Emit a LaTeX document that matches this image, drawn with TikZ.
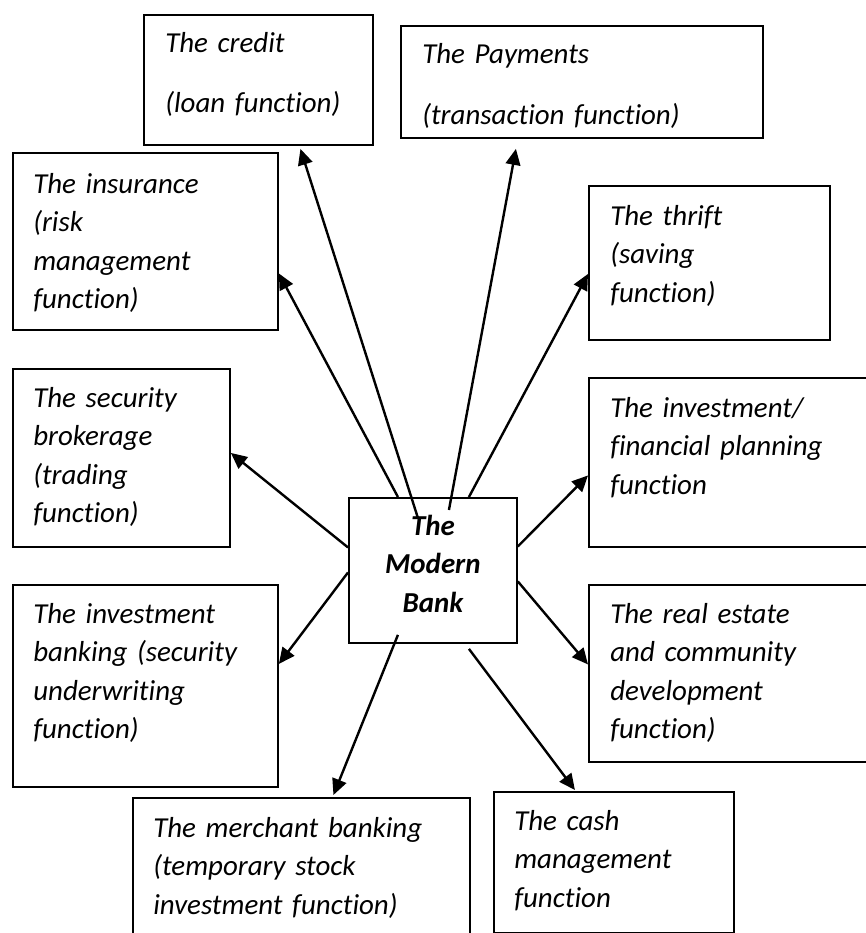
\documentclass[tikz,border=0pt]{standalone}
\usepackage{fontspec}
\setmainfont[Ligatures=NoCommon]{Carlito}
\usetikzlibrary{arrows.meta,calc}

\tikzset{
  fbox/.style 2 args={draw, line width=1.4pt, inner sep=0pt, anchor=north west,
    minimum width=#1*0.75pt, minimum height=#2*0.75pt},
  boxtext/.style={anchor=base west, inner sep=0pt, text width=#1*0.75pt, align=left,
    font=\fontsize{21.7}{28.9}\selectfont\itshape},
  link/.style={line width=1.8pt, -{Triangle[length=12pt,width=11pt]}}
}

\begin{document}
\begin{tikzpicture}[x=0.75pt,y=-0.75pt]
	\useasboundingbox (0,0) rectangle (866,933);
	\node[fbox={229}{130}] (credit) at (143,14) {};
	\node[fbox={362}{112}] (payments) at (400,25) {};
	\node[fbox={265}{177}] (insurance) at (12,152) {};
	\node[fbox={241}{154}] (thrift) at (588,185) {};
	\node[fbox={217}{178}] (security) at (12,368) {};
	\node[fbox={290}{169}] (invplan) at (588,377) {};
	\node[fbox={168}{145}] (bank) at (348,497) {};
	\node[fbox={265}{202}] (invbank) at (12,584) {};
	\node[fbox={290}{177}] (realestate) at (588,584) {};
	\node[fbox={337}{148}] (merchant) at (132,797) {};
	\node[fbox={240}{141}] (cash) at (493,791) {};
	\node[boxtext=220] (credit-t) at ($(credit.north west)+(22,38)$) {The credit\\[16.8pt](loan function)};
	\node[boxtext=340] (payments-t) at ($(payments.north west)+(22,38)$) {The Payments\\[17.5pt](transaction function)};
	\node[boxtext=240] (insurance-t) at ($(insurance.north west)+(21,41)$) {The insurance\\(risk\\management\\function)};
	\node[boxtext=220] (thrift-t) at ($(thrift.north west)+(22,40)$) {The thrift\\(saving\\function)};
	\node[boxtext=200] (security-t) at ($(security.north west)+(21,39)$) {The security\\brokerage\\(trading\\function)};
	\node[boxtext=260] (invplan-t) at ($(invplan.north west)+(22,40)$) {The investment/\\financial planning\\function};
	\node[boxtext=250] (invbank-t) at ($(invbank.north west)+(21,39)$) {The investment\\banking (security\\underwriting\\function)};
	\node[boxtext=260] (realestate-t) at ($(realestate.north west)+(22,39)$) {The real estate\\and community\\development\\function)};
	\node[boxtext=320] (merchant-t) at ($(merchant.north west)+(21,40)$) {The merchant banking\\(temporary stock\\investment function)};
	\node[boxtext=220] (cash-t) at ($(cash.north west)+(21,39)$) {The cash\\management\\function};
	\node[anchor=base, inner sep=0pt, text width=150*0.75pt, align=center,
		font=\fontsize{21.7}{28.9}\selectfont\bfseries\itshape] (bank-t) at ($(bank.north)+(0,38)$) {The\\Modern\\Bank};
	\draw[link] ($(bank.north)+(-15,21)$) -- ($(credit.south)+(42,3)$);
	\draw[link] ($(bank.north)+(16,13)$) -- ($(payments.south)+(-66,10)$);
	\draw[link] ($(bank.north)+(-35,0)$) -- ($(insurance.east)+(0,32)$);
	\draw[link] ($(bank.north)+(36,0)$) -- ($(thrift.west)+(0,11)$);
	\draw[link] ($(bank.west)+(0,-23)$) -- ($(security.east)+(0,-5)$);
	\draw[link] ($(bank.west)+(0,2)$) -- ($(invbank.east)+(0,-22)$);
	\draw[link] ($(bank.east)+(0,-24)$) -- ($(invplan.west)+(0,13)$);
	\draw[link] ($(bank.east)+(0,11)$) -- ($(realestate.west)+(0,-9)$);
	\draw[link] ($(bank.south)+(-35,-9)$) -- ($(merchant.north)+(32,-2)$);
	\draw[link] ($(bank.south)+(36,5)$) -- ($(cash.north)+(-39,-1)$);
\end{tikzpicture}
\end{document}
